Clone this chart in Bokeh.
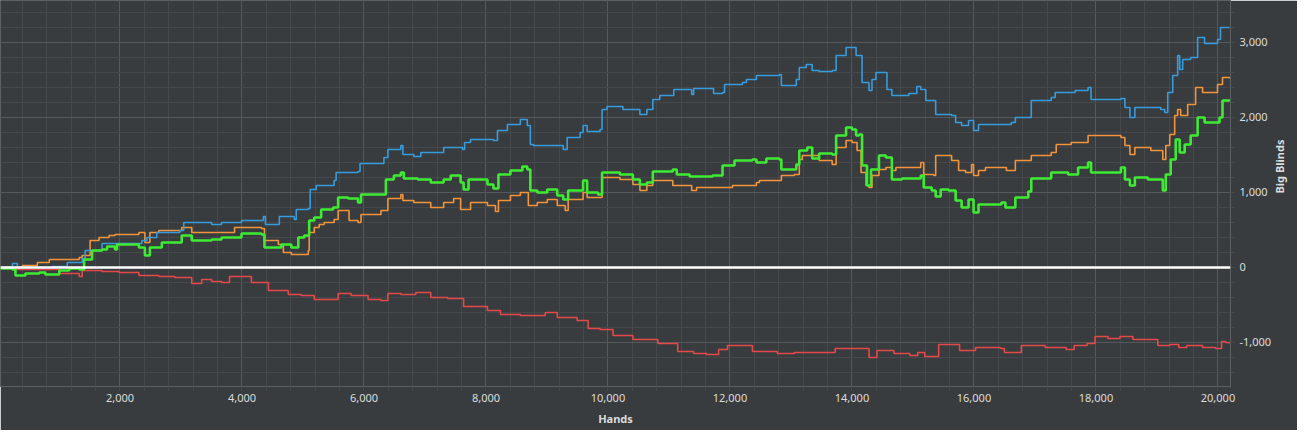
import math
from bokeh.plotting import figure
from bokeh.models import Range1d, SingleIntervalTicker, NumeralTickFormatter, Span
from bokeh.embed import file_html
from bokeh.resources import INLINE

# ---- data: (hands, big blinds) ----
blue_hands = [0, 237, 318, 645, 890, 1135, 1380, 1429, 1706, 2359, 2441, 2604, 2980, 3045, 3502, 3665, 3992, 4351, 4384, 4580, 4612, 4857, 4890, 5086, 5118, 5216, 5510, 5543, 5902, 5935, 6327, 6392, 6604, 6637, 6817, 6931, 7208, 7306, 7616, 7649, 7747, 8122, 8188, 8351, 8563, 8677, 8727, 8776, 9266, 9331, 9543, 9592, 9658, 9870, 9903, 9984, 10196, 10245, 10474, 10523, 10637, 10735, 10849, 11062, 11078, 11339, 11372, 11404, 11715, 11731, 11878, 11911, 12204, 12270, 12433, 12760, 12809, 12842, 12972, 13087, 13136, 13250, 13332, 13348, 13462, 13675, 13740, 13838, 13903, 14001, 14067, 14116, 14165, 14279, 14328, 14393, 14556, 14573, 14654, 14932, 15062, 15127, 15209, 15291, 15372, 15633, 15699, 15797, 15911, 15993, 16074, 16613, 16678, 16890, 16939, 17266, 17331, 17658, 17870, 17919, 18409, 18474, 18556, 18637, 19062, 19127, 19176, 19258, 19339, 19372, 19421, 19552, 19666, 19780, 19992, 20041, 20188]
blue_bb = [0, 53, 0, 0, 13, 67, 120, 227, 320, 360, 400, 467, 493, 600, 573, 600, 627, 680, 573, 573, 680, 640, 773, 787, 1040, 1093, 1160, 1267, 1280, 1387, 1467, 1573, 1627, 1507, 1480, 1533, 1533, 1600, 1573, 1667, 1707, 1693, 1827, 1907, 1973, 1893, 1640, 1627, 1573, 1733, 1800, 1893, 1813, 1840, 2107, 2147, 2147, 2107, 2107, 2040, 2107, 2240, 2293, 2293, 2373, 2373, 2307, 2387, 2387, 2320, 2333, 2440, 2467, 2507, 2560, 2560, 2573, 2427, 2427, 2507, 2667, 2707, 2707, 2627, 2613, 2627, 2827, 2827, 2933, 2933, 2827, 2827, 2467, 2360, 2507, 2600, 2600, 2373, 2293, 2320, 2413, 2373, 2227, 2227, 2040, 2027, 1933, 1893, 1960, 1827, 1907, 1933, 2000, 2000, 2227, 2267, 2333, 2360, 2400, 2240, 2253, 2133, 2000, 2133, 2107, 2067, 2333, 2560, 2827, 2640, 2773, 2800, 3067, 2987, 3040, 3200, 3200]

orange_hands = [0, 237, 400, 645, 841, 1331, 1380, 1510, 1657, 1820, 1918, 2310, 2408, 2490, 2637, 2849, 3012, 3176, 3502, 3665, 3878, 4318, 4368, 4596, 4678, 4808, 5086, 5102, 5184, 5265, 5347, 5510, 5576, 5739, 5755, 5902, 5951, 6278, 6392, 6604, 6637, 6817, 7094, 7306, 7470, 7584, 7747, 8024, 8155, 8204, 8400, 8563, 8694, 8841, 9004, 9168, 9298, 9347, 9543, 9592, 9658, 9821, 9903, 10196, 10408, 10523, 10637, 10735, 11062, 11372, 11453, 11878, 12041, 12433, 12482, 12809, 12842, 13054, 13136, 13185, 13462, 13675, 13740, 13903, 14001, 14083, 14148, 14230, 14279, 14328, 14442, 14556, 14654, 14720, 15127, 15176, 15339, 15372, 15503, 15633, 15748, 15862, 15960, 15993, 16074, 16188, 16450, 16531, 16678, 16939, 17266, 17348, 17593, 17870, 18409, 18474, 18556, 18637, 18899, 19095, 19144, 19209, 19290, 19339, 19388, 19503, 19633, 19747, 19992, 20074, 20188]
orange_bb = [0, 0, 27, 67, 107, 133, 160, 360, 400, 427, 440, 467, 333, 467, 493, 493, 533, 467, 467, 467, 533, 520, 360, 307, 200, 173, 227, 467, 533, 573, 600, 640, 760, 760, 627, 600, 707, 760, 920, 973, 893, 867, 800, 867, 920, 773, 867, 827, 747, 893, 960, 1000, 827, 867, 907, 827, 760, 907, 907, 1000, 933, 933, 1200, 1173, 1107, 1027, 1093, 1160, 1093, 1027, 1067, 1067, 1093, 1133, 1160, 1160, 1227, 1240, 1440, 1493, 1427, 1373, 1600, 1693, 1667, 1560, 1267, 1093, 1067, 1227, 1307, 1333, 1293, 1333, 1400, 1240, 1227, 1493, 1493, 1427, 1293, 1267, 1373, 1227, 1293, 1333, 1333, 1293, 1427, 1493, 1533, 1640, 1667, 1760, 1733, 1627, 1507, 1600, 1560, 1440, 1627, 1773, 2027, 2107, 2027, 2173, 2400, 2333, 2440, 2533, 2520]

green_hands = [0, 237, 286, 400, 449, 612, 678, 776, 890, 1004, 1167, 1331, 1412, 1543, 1706, 1788, 1918, 1951, 2310, 2408, 2490, 2686, 2849, 3012, 3176, 3502, 3665, 3992, 4318, 4368, 4596, 4645, 4808, 4923, 5021, 5102, 5184, 5298, 5494, 5576, 5739, 5902, 5951, 6229, 6359, 6490, 6604, 6653, 6882, 7094, 7306, 7421, 7584, 7633, 7714, 8024, 8122, 8204, 8400, 8596, 8677, 8727, 8841, 9004, 9168, 9266, 9347, 9543, 9592, 9658, 9837, 9903, 10196, 10408, 10523, 10637, 10735, 11062, 11127, 11339, 11715, 11878, 12074, 12368, 12433, 12596, 12809, 12842, 13054, 13087, 13136, 13266, 13348, 13462, 13675, 13740, 13903, 14001, 14067, 14116, 14165, 14246, 14312, 14442, 14556, 14654, 14818, 15127, 15176, 15307, 15372, 15454, 15584, 15699, 15797, 15911, 15993, 16074, 16450, 16515, 16678, 16890, 16939, 17266, 17543, 17707, 17870, 17919, 18409, 18474, 18556, 18637, 18850, 19095, 19144, 19225, 19307, 19372, 19454, 19552, 19666, 19780, 20025, 20074, 20188]
green_bb = [-13, -27, -107, -107, -80, -80, -67, -93, -93, -40, -13, -27, 107, 227, 240, 280, 240, 307, 267, 160, 267, 333, 333, 427, 360, 373, 400, 453, 440, 267, 267, 307, 267, 400, 427, 627, 667, 773, 800, 933, 920, 867, 973, 973, 1173, 1227, 1267, 1187, 1173, 1133, 1173, 1227, 1133, 1040, 1173, 1107, 1053, 1240, 1293, 1347, 1307, 1027, 1000, 1040, 960, 907, 1027, 1027, 1160, 1000, 973, 1267, 1240, 1173, 1107, 1133, 1280, 1307, 1240, 1213, 1227, 1360, 1427, 1440, 1400, 1453, 1440, 1307, 1307, 1373, 1560, 1600, 1453, 1520, 1507, 1760, 1867, 1840, 1760, 1773, 1360, 1093, 1307, 1493, 1467, 1173, 1187, 1227, 1067, 1027, 947, 1040, 1027, 893, 800, 907, 733, 840, 867, 800, 933, 1013, 1187, 1267, 1240, 1333, 1400, 1267, 1333, 1173, 1093, 1200, 1173, 1027, 1240, 1440, 1707, 1533, 1640, 1760, 2000, 1933, 2000, 2227, 2213]

red_hands = [0, 237, 678, 1004, 1331, 1380, 1706, 1984, 2310, 2637, 2898, 3176, 3339, 3502, 3665, 3796, 4155, 4433, 4759, 4972, 5184, 5347, 5576, 5788, 6066, 6278, 6392, 6604, 6849, 7094, 7372, 7633, 8024, 8237, 8563, 8776, 8972, 9168, 9494, 9674, 9870, 10082, 10408, 10539, 10817, 11143, 11404, 11617, 11813, 11960, 12090, 12368, 12776, 13054, 13462, 13724, 14001, 14279, 14409, 14687, 14948, 15078, 15193, 15421, 15552, 15764, 16025, 16433, 16499, 16776, 16972, 17168, 17511, 17642, 17854, 17984, 18197, 18393, 18605, 19013, 19209, 19356, 19486, 19747, 19960, 20058, 20123, 20188]
red_bb = [0, -27, -27, -80, -120, -40, -53, -67, -107, -120, -133, -213, -160, -187, -200, -120, -200, -307, -360, -373, -427, -427, -347, -373, -427, -440, -347, -360, -333, -400, -413, -520, -573, -627, -640, -640, -600, -667, -707, -813, -827, -907, -960, -960, -1013, -1120, -1147, -1160, -1093, -1040, -1040, -1120, -1147, -1133, -1133, -1080, -1080, -1200, -1107, -1147, -1173, -1133, -1187, -1027, -1027, -1107, -1067, -1080, -1133, -1040, -1040, -1067, -1093, -1040, -1013, -920, -947, -920, -960, -1040, -1027, -1067, -1040, -1067, -1080, -987, -1000, -1013]

# ---- style ----
BG = "#393c3f"
GRID_MAJOR = "#56595c"
GRID_MINOR = "#46494c"
FRAME = "#5e6164"
TEXT = "#dcdcdc"
FONT = "Noto Sans"

p = figure(frame_width=1230, frame_height=386, output_backend="svg", toolbar_location=None,
           x_range=Range1d(41, 20205), y_range=Range1d(-1587, 3560),
           y_axis_location="right", min_border_left=0, min_border_top=0,
           min_border_right=0, min_border_bottom=44)
p.background_fill_color = BG
p.border_fill_color = BG
p.outline_line_color = FRAME
p.outline_line_width = 1

p.xaxis.ticker = SingleIntervalTicker(interval=2000, num_minor_ticks=5)
p.yaxis.ticker = SingleIntervalTicker(interval=1000, num_minor_ticks=5)
p.xgrid.ticker = p.xaxis.ticker
p.ygrid.ticker = p.yaxis.ticker
for ax in (p.xaxis, p.yaxis):
    ax.formatter = NumeralTickFormatter(format="0,0")
    ax.axis_line_color = FRAME
    ax.major_tick_line_color = GRID_MINOR
    ax.minor_tick_line_color = GRID_MINOR
    ax.major_tick_out = 4
    ax.major_tick_in = 0
    ax.minor_tick_out = 4
    ax.minor_tick_in = 0
    ax.major_label_text_color = TEXT
    ax.major_label_text_font = FONT
    ax.major_label_text_font_size = "11px"
    ax.axis_label_text_color = TEXT
    ax.axis_label_text_font = FONT
    ax.axis_label_text_font_size = "11px"
    ax.axis_label_text_font_style = "bold"
p.xaxis.axis_label = "Hands"
p.yaxis.axis_label = "Big Blinds"
p.xaxis.major_label_standoff = 3
p.xaxis.axis_label_standoff = 6
p.yaxis.major_label_standoff = 5
p.yaxis.axis_label_standoff = 5
yax = p.yaxis[0]
if "axis_label_orientation" in yax.properties():
    # read from bottom to top, like the reference
    yax.axis_label_orientation = math.pi / 2

for g in (p.xgrid, p.ygrid):
    g.grid_line_color = GRID_MAJOR
    g.grid_line_width = 1
    g.minor_grid_line_color = GRID_MINOR
    g.minor_grid_line_width = 1

p.step(red_hands, red_bb, mode="after", line_color="#e54848", line_width=1.6)
p.step(orange_hands, orange_bb, mode="after", line_color="#f2943c", line_width=1.6)
p.step(blue_hands, blue_bb, mode="after", line_color="#379bdc", line_width=1.6)
p.step(green_hands, green_bb, mode="after", line_color="#3fea35", line_width=2.6)

zero = Span(location=0, dimension="width", line_color="#ffffff", line_width=2.5)
p.add_layout(zero)

open("out.html", "w").write(file_html(p, INLINE))
